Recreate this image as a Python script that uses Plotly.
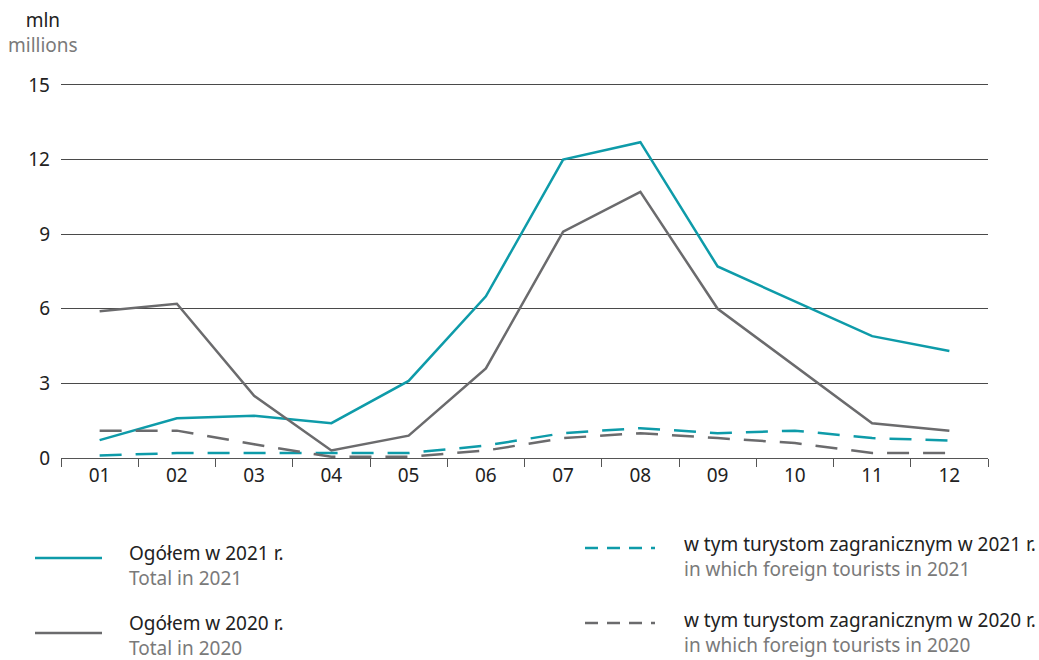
import plotly.graph_objects as go

months = ["01", "02", "03", "04", "05", "06", "07", "08", "09", "10", "11", "12"]
total_2021 = [0.72, 1.6, 1.7, 1.4, 3.1, 6.5, 12.0, 12.7, 7.7, 6.3, 4.9, 4.3]
total_2020 = [5.9, 6.2, 2.5, 0.3, 0.9, 3.6, 9.1, 10.7, 6.0, 3.7, 1.4, 1.1]
foreign_2021 = [0.1, 0.2, 0.2, 0.2, 0.2, 0.5, 1.0, 1.2, 1.0, 1.1, 0.8, 0.7]
foreign_2020 = [1.1, 1.1, 0.55, 0.05, 0.05, 0.3, 0.8, 1.0, 0.8, 0.6, 0.2, 0.2]
y_ticks = [0, 3, 6, 9, 12, 15]

TEAL = "#0e9ba9"
GRAY = "#6b6b6d"
FONT = "Noto Sans"
FS = 19

fig = go.Figure()
fig.add_trace(go.Scatter(x=months, y=total_2021, mode="lines",
                         line=dict(color=TEAL, width=2.5)))
fig.add_trace(go.Scatter(x=months, y=total_2020, mode="lines",
                         line=dict(color=GRAY, width=2.5)))
fig.add_trace(go.Scatter(x=months, y=foreign_2021, mode="lines",
                         line=dict(color=TEAL, width=2.5, dash="22px,14px")))
fig.add_trace(go.Scatter(x=months, y=foreign_2020, mode="lines",
                         line=dict(color=GRAY, width=2.5, dash="22px,14px")))

W, H = 1039, 660
L, R, T, B = 61, 51, 80, 202
PW, PH = W - L - R, H - T - B

def px(x):
    return (x - L) / PW

def py(y):
    return (H - B - y) / PH

fig.update_layout(
    width=W, height=H,
    margin=dict(l=L, r=R, t=T, b=B),
    paper_bgcolor="white", plot_bgcolor="white",
    showlegend=False,
    font=dict(family=FONT, size=FS, color="#222"),
    xaxis=dict(type="category", tickson="boundaries", ticks="outside",
               ticklen=8, tickcolor="#555", showline=True, linecolor="#555",
               linewidth=1, showgrid=False, tickfont=dict(size=FS, color="#222"),
               range=[-0.5, 11.5], fixedrange=True),
    yaxis=dict(range=[0, 15.2], tickvals=y_ticks, showgrid=True,
               gridcolor="#4a4a4a", gridwidth=1, zeroline=False, showline=False,
               ticks="", tickfont=dict(size=FS, color="#222"), ticklabelstandoff=10,
               fixedrange=True),
)

ann = []
ann.append(dict(text="mln<br><span style='color:#7a7a7a'>millions</span>",
                x=px(6), y=py(32), xref="paper", yref="paper", align="center",
                xanchor="left", yanchor="middle", showarrow=False,
                font=dict(size=FS, color="#222")))

legend = [
    (35, 102, 558, TEAL, "solid", "Ogółem w 2021 r.", "Total in 2021", 127, 565),
    (35, 102, 633, GRAY, "solid", "Ogółem w 2020 r.", "Total in 2020", 127, 635),
    (585, 655, 548, TEAL, "13px,9px", "w tym turystom zagranicznym w 2021 r.", "in which foreign tourists in 2021", 682, 556),
    (585, 655, 623, GRAY, "13px,9px", "w tym turystom zagranicznym w 2020 r.", "in which foreign tourists in 2020", 682, 632),
]
shapes = []
for x0, x1, yy, col, dash, t1, t2, tx, yc in legend:
    shapes.append(dict(type="line", xref="paper", yref="paper",
                       x0=px(x0), x1=px(x1), y0=py(yy), y1=py(yy),
                       line=dict(color=col, width=2.5, dash=dash)))
    ann.append(dict(text=f"{t1}<br><span style='color:#7a7a7a'>{t2}</span>",
                    x=px(tx), y=py(yc), xref="paper", yref="paper", align="left",
                    xanchor="left", yanchor="middle", showarrow=False,
                    font=dict(size=FS, color="#222")))

fig.update_layout(annotations=ann, shapes=shapes)
fig.write_html("out.html", config={"displayModeBar": False},
               post_script="document.body.style.margin='0px';document.body.style.overflow='hidden';")
